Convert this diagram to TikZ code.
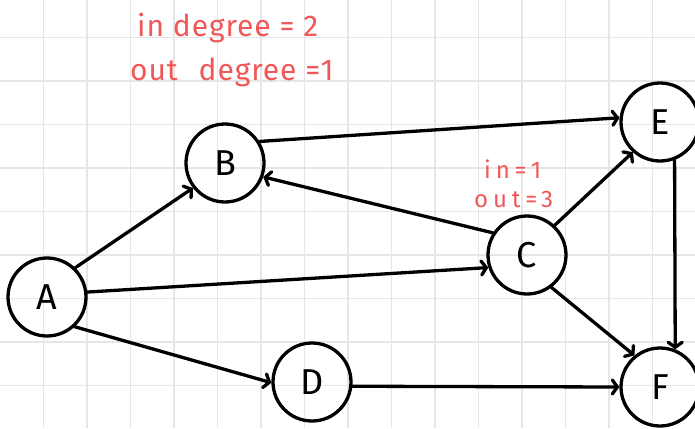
\documentclass[tikz,border=0pt]{standalone}
\usepackage{fontspec}
\setmainfont{Fira Sans}
\usetikzlibrary{arrows.meta}
\definecolor{GridGray}{HTML}{E6E6E6}
\definecolor{NoteRed}{HTML}{F25757}

\begin{document}
\begin{tikzpicture}[x=1pt,y=-1pt,
  vtx/.style={circle,draw,line width=3.3pt,minimum size=78pt,inner sep=0pt,font=\fontsize{36}{36}\selectfont},
  arc/.style={line width=3.3pt,line cap=round,-{Straight Barb[length=5pt,width=14pt,line cap=round]}},
  note/.style={text=NoteRed,inner sep=0pt,anchor=base west}]
\fill[white] (0,0) rectangle (695,428);
\useasboundingbox (0,0) rectangle (695,428);
\foreach \k in {1,...,15}{\draw[GridGray,line width=1.5pt] (43.5*\k-0.2,0)--(43.5*\k-0.2,428);}
\foreach \k in {0,...,8}{\draw[GridGray,line width=1.5pt] (0,37.5+43.5*\k)--(695,37.5+43.5*\k);}
% vertices
\node[vtx] (A) at (47,297) {A};
\node[vtx] (B) at (225,163) {B};
\node[vtx] (C) at (527,255) {C};
\node[vtx] (D) at (312,382) {D};
\node[vtx] (E) at (660,122) {E};
\node[vtx] (F) at (660,387) {F};
% edges
\draw[arc] (A.46)--(B.218);
\draw[arc] (A.7)--(C.198);
\draw[arc] (A.313)--(D.181);
\draw[arc] (B.32)--(E.174);
\draw[arc] (C.147)--(B.340);
\draw[arc] (C.47)--(E.228);
\draw[arc] (C.307)--(F.129);
\draw[arc] (E.291)--(F.68);
\draw[arc] (D.354)--(F.180);
% degree notes
\node[note,font=\fontsize{30}{30}\selectfont\addfontfeatures{LetterSpace=3}] (inB) at (137,37) {in degree = 2};
\node[note,font=\fontsize{30}{30}\selectfont\addfontfeatures{LetterSpace=3}] (outB) at (130,80) {out\hspace{12pt} degree =1};
\node[note,font=\fontsize{24}{24}\selectfont\addfontfeatures{LetterSpace=20}] (inC) at (484,178) {in=1};
\node[note,font=\fontsize{24}{24}\selectfont\addfontfeatures{LetterSpace=20}] (outC) at (474,207) {out=3};
\end{tikzpicture}
\end{document}
